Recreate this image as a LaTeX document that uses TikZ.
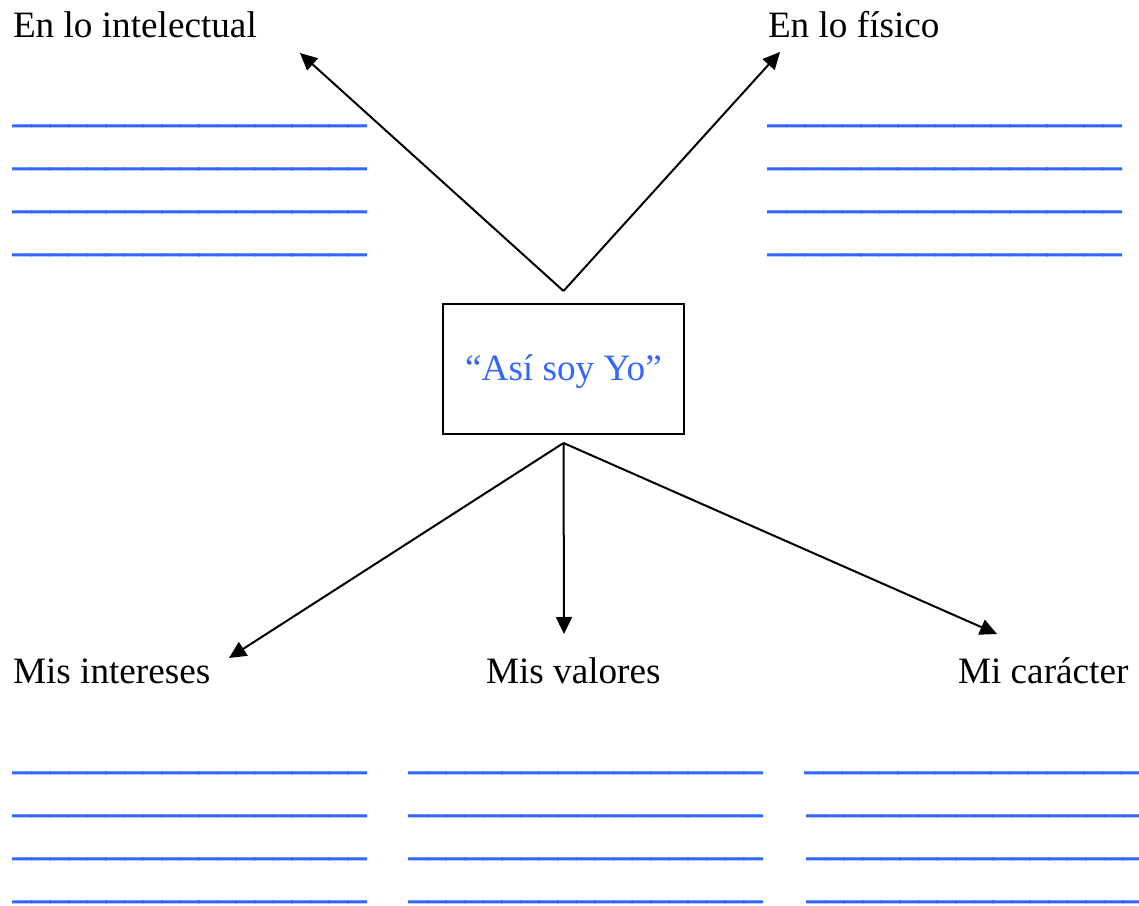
\documentclass[tikz,border=0pt]{standalone}
\usepackage{fontspec}
\setmainfont{Liberation Serif}
\newfontfamily\rayafont[FakeBold=2.5]{Liberation Serif}
\usetikzlibrary{positioning, arrows.meta, graphs}
\definecolor{azul}{RGB}{51,102,255}
\newcommand{\raya}{\_\_\_\_\_\_\_\_\_\_\_\_\_\_\_\_\_\_\_}
\newcommand{\rayacorta}{\_\_\_\_\_\_\_\_\_\_\_\_\_\_\_\_\_\_}
\tikzset{
    titulo/.style={anchor=base west, inner sep=0pt,
        font=\fontsize{18.6}{22}\selectfont},
    renglon/.style={anchor=base west, inner sep=0pt, text=azul,
        font=\rayafont\fontsize{18.6}{22}\selectfont},
    caja/.style={rectangle, draw=black, line width=1pt, minimum width=120.5pt,
        minimum height=65pt, text height=14pt, text depth=3pt, text=azul,
        font=\fontsize{18.6}{22}\selectfont},
    punto/.style={coordinate}}
\begin{document}
\begin{tikzpicture}[x=0.5pt, y=-0.5pt, line width=1pt,
        >={Triangle[length=8.5pt, width=8pt]}]
    \useasboundingbox (0,0) rectangle (1139,905);

    \node (yo) [caja] at (563.5,369) {“Así soy Yo”};
    \coordinate[above=6pt of yo] (arriba);
    \coordinate[below=4pt of yo] (abajo);

    \node (intelectual) [titulo] at (12,37) {En lo intelectual};
    \node (fisico) [titulo] at (767,37) {En lo físico};
    \node (intereses) [titulo] at (12,683) {Mis intereses};
    \node (valores) [titulo] at (485,683) {Mis valores};
    \node (caracter) [titulo] at (957,683) {Mi carácter};

    % puntas de las flechas
    \node (pint) [punto] at (300,53) {};
    \node (pfis) [punto] at (780,52) {};
    \node (pinter) [punto] at (229,658) {};
    \node (pval) [punto] at (564,634) {};
    \node (pcar) [punto] at (997,634) {};

    \graph{(arriba) -> {(pint), (pfis)};
           (abajo) -> {(pinter), (pval), (pcar)};};

    % renglones para escribir
    \foreach \col/\x/\y in {ri/12/122, rf/767/122, rin/12/769, rv/408/769}
        \foreach \i in {0,...,3}
            \node (\col\i) [renglon] at (\x,\y+43*\i) {\raya};
    \node (rc0) [renglon] at (804,769) {\rayacorta};
    \foreach \i in {1,...,3}
        \node (rc\i) [renglon] at (806,769+43*\i) {\rayacorta};
\end{tikzpicture}
\end{document}
